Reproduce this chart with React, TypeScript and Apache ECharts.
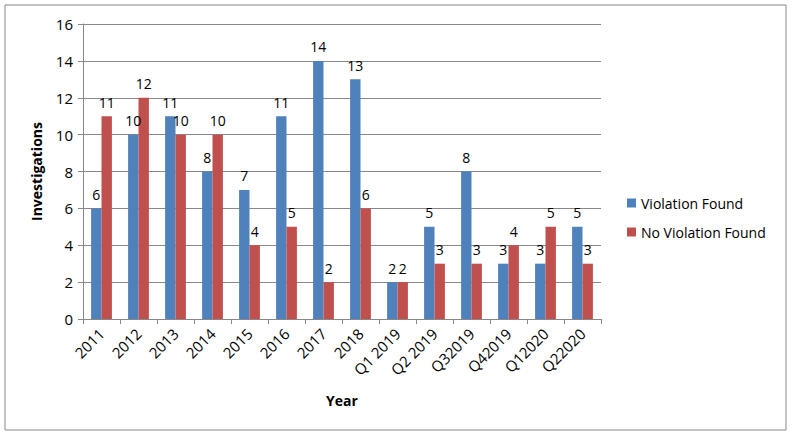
import React, { useEffect, useRef } from "react";
import * as echarts from "echarts";

const categories = ["2011", "2012", "2013", "2014", "2015", "2016", "2017", "2018", "Q1 2019", "Q2 2019", "Q32019", "Q42019", "Q12020", "Q22020"];
const violationFound = [6, 10, 11, 8, 7, 11, 14, 13, 2, 5, 8, 3, 3, 5];
const noViolationFound = [11, 12, 10, 10, 4, 5, 2, 6, 2, 3, 3, 4, 5, 3];
const seriesNames = ["Violation Found", "No Violation Found"];

const FONT = "'Open Sans', 'Liberation Sans', sans-serif";

export default function App() {
  const ref = useRef<HTMLDivElement>(null);
  useEffect(() => {
    if (!ref.current) return;
    const chart = echarts.init(ref.current, undefined, { renderer: "svg" });
    const label = { show: true, position: "top", color: "#000", fontSize: 14, fontFamily: FONT, distance: 7 };
    chart.setOption({
      animation: false,
      backgroundColor: "#fff",
      graphic: [
        { type: "rect", shape: { x: 5, y: 5, width: 781, height: 425 }, style: { fill: "none", stroke: "#888", lineWidth: 1 } },
      ],
      legend: {
        orient: "vertical",
        left: 622,
        top: 191,
        itemWidth: 9,
        itemHeight: 9,
        itemGap: 15,
        icon: "rect",
        textStyle: { fontSize: 14, fontFamily: FONT, color: "#000" },
        data: seriesNames,
      },
      grid: { left: 83, right: 192, top: 24, bottom: 119, containLabel: false },
      xAxis: {
        type: "category",
        data: categories,
        name: "Year",
        nameLocation: "middle",
        nameGap: 74,
        nameTextStyle: { fontWeight: "bold", fontSize: 14, fontFamily: FONT, color: "#000" },
        axisLine: { lineStyle: { color: "#888" } },
        axisTick: { show: true, alignWithLabel: false, length: 5, lineStyle: { color: "#888" } },
        axisLabel: { rotate: 45, fontSize: 15, fontFamily: FONT, color: "#000", interval: 0, margin: 12 },
      },
      yAxis: {
        type: "value",
        min: 0,
        max: 16,
        interval: 2,
        name: "Investigations",
        nameLocation: "middle",
        nameGap: 40,
        nameRotate: 90,
        nameTextStyle: { fontWeight: "bold", fontSize: 14, fontFamily: FONT, color: "#000" },
        axisLine: { show: true, lineStyle: { color: "#888" } },
        axisTick: { show: true, length: 5, lineStyle: { color: "#888" } },
        axisLabel: { fontSize: 15, fontFamily: FONT, color: "#000", margin: 10 },
        splitLine: { lineStyle: { color: "#888" } },
      },
      series: [
        {
          name: seriesNames[0],
          type: "bar",
          data: violationFound,
          itemStyle: { color: "#4F81BD" },
          barWidth: 10.4,
          barGap: "0%",
          label,
        },
        {
          name: seriesNames[1],
          type: "bar",
          data: noViolationFound,
          itemStyle: { color: "#C0504D" },
          barWidth: 10.4,
          barGap: "0%",
          label,
        },
      ],
    });
    return () => chart.dispose();
  }, []);
  return <div ref={ref} style={{ position: "fixed", left: 0, top: 0, width: 793, height: 438 }} />;
}
